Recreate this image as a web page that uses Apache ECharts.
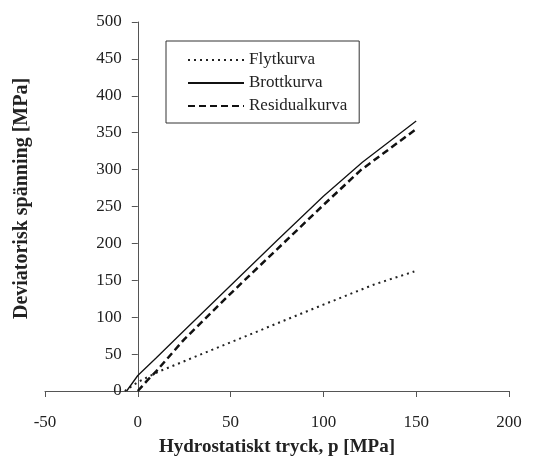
<!DOCTYPE html>
<html>
<head>
<meta charset="utf-8">
<script src="https://cdn.jsdelivr.net/npm/echarts@6/dist/echarts.min.js"></script>
<style>
html, body { margin: 0; padding: 0; background: #fff; }
#main { width: 534px; height: 457px; }
</style>
</head>
<body>
<div id="main"></div>
<script>
/* data */
var flytX = [-7, 0, 11, 50, 100, 127, 149];
var flytY = [0, 12, 26, 66, 117, 144, 162];

var brottX = [-6, 0, 10, 25, 50, 75, 100, 121, 150];
var brottY = [0, 21, 45, 82, 143, 204, 264, 310, 366];

var residX = [0, 5, 10, 25, 50, 75, 100, 120, 150];
var residY = [0, 14, 27, 70, 132, 192, 252, 299, 355];

var seriesNames = ['Flytkurva', 'Brottkurva', 'Residualkurva'];
var xTicks = [-50, 0, 50, 100, 150, 200];
var yTicks = [0, 50, 100, 150, 200, 250, 300, 350, 400, 450, 500];

var serif = '"Liberation Serif", "DejaVu Serif", serif';
var ink = '#222';

// plot area (px)
var gLeft = 45, gRight = 25, gTop = 22, gBottom = 66;
var plotW = 534 - gLeft - gRight;
// y axis sits at x = 0, move it there from the left edge
var xMin = xTicks[0], xMax = xTicks[xTicks.length - 1];
var yAxisShift = plotW * (0 - xMin) / (xMax - xMin);

function pairs(xs, ys) {
	var out = [];
	for (var i = 0; i < xs.length; i++) {
		out.push([xs[i], ys[i]]);
	}
	return out;
}

var chart = echarts.init(document.getElementById('main'));
var option = {
	backgroundColor: '#fff',
	animation: false,
	grid: {
		left: gLeft, right: gRight, top: gTop, bottom: gBottom,
		containLabel: false,
		outerBoundsMode: 'none'
	},
	legend: {
		orient: 'vertical',
		left: 166,
		top: 41,
		data: seriesNames,
		borderColor: '#333',
		borderWidth: 1,
		padding: [10, 12, 8, 21],
		itemWidth: 56,
		itemHeight: 16,
		itemGap: 5,
		itemStyle: { opacity: 0 },   // line only, no marker
		textStyle: { fontFamily: serif, fontSize: 17, color: ink, lineHeight: 18 }
	},
	xAxis: {
		type: 'value',
		min: xMin,
		max: xMax,
		interval: 50,
		name: 'Hydrostatiskt tryck, p [MPa]',
		nameLocation: 'middle',
		nameGap: 47,
		nameTextStyle: { fontFamily: serif, fontSize: 19, fontWeight: 'bold', color: ink },
		axisLine: { onZero: false, lineStyle: { color: '#555', width: 1 } },
		axisTick: { show: true, length: 6, lineStyle: { color: '#555' } },
		axisLabel: { margin: 23, fontFamily: serif, fontSize: 17, color: ink },
		splitLine: { show: false }
	},
	yAxis: {
		type: 'value',
		min: yTicks[0],
		max: yTicks[yTicks.length - 1],
		interval: 50,
		offset: -yAxisShift,
		name: 'Deviatorisk spänning [MPa]',
		nameLocation: 'middle',
		nameGap: 106,
		nameTextStyle: {
			fontFamily: serif, fontSize: 20, fontWeight: 'bold', color: ink,
			padding: [0, 0, 0, 16]
		},
		axisLine: { show: true, onZero: false, lineStyle: { color: '#555', width: 1 } },
		axisTick: { show: true, length: 6, lineStyle: { color: '#555' } },
		axisLabel: { margin: 16, fontFamily: serif, fontSize: 17, color: ink },
		splitLine: { show: false }
	},
	series: [
		{
			name: seriesNames[0],
			type: 'line',
			symbol: 'none',
			data: pairs(flytX, flytY),
			lineStyle: { color: '#222', width: 2, type: [2, 4] },
			itemStyle: { color: '#222' }
		},
		{
			name: seriesNames[1],
			type: 'line',
			symbol: 'none',
			data: pairs(brottX, brottY),
			lineStyle: { color: '#111', width: 1.3, type: 'solid' },
			itemStyle: { color: '#111' }
		},
		{
			name: seriesNames[2],
			type: 'line',
			symbol: 'none',
			data: pairs(residX, residY),
			lineStyle: { color: '#111', width: 2.5, type: [7, 4] },
			itemStyle: { color: '#111' }
		}
	]
};
chart.setOption(option);
</script>
</body>
</html>
